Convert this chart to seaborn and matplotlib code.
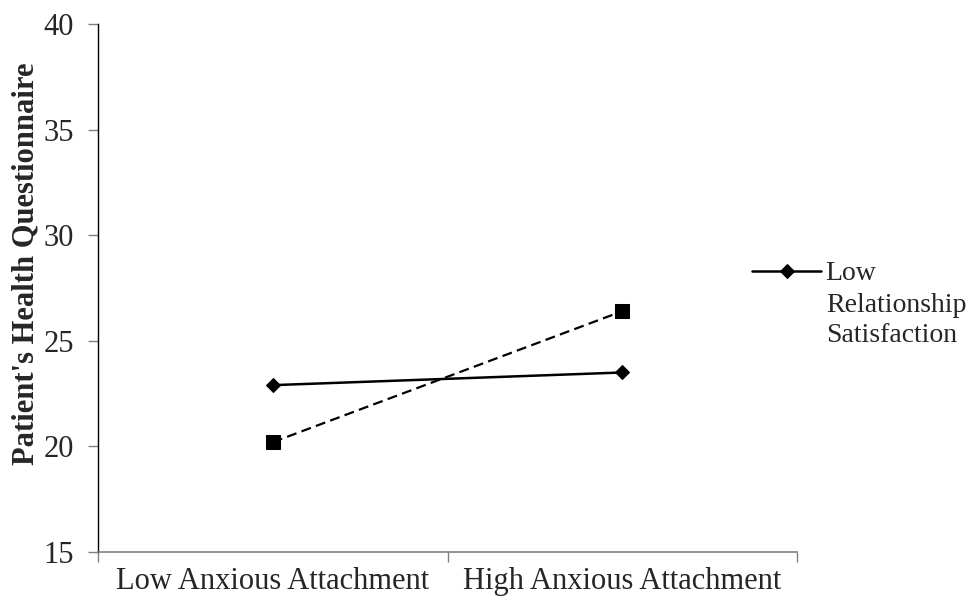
import matplotlib
matplotlib.use("Agg")
import matplotlib.pyplot as plt
import seaborn as sns
import pandas as pd
from matplotlib.ticker import FixedLocator, NullFormatter

sns.set_style("white")
plt.rcParams["font.family"] = ["Liberation Serif", "DejaVu Serif"]

# Simple slopes data
categories = ["Low Anxious Attachment", "High Anxious Attachment"]
low_satisfaction = [22.9, 23.5]
high_satisfaction = [20.2, 26.4]
series_names = ["Low Relationship Satisfaction", "High Relationship Satisfaction"]
y_ticks = [15, 20, 25, 30, 35, 40]

df = pd.DataFrame({
    "x": [0, 1, 0, 1],
    "value": low_satisfaction + high_satisfaction,
    "group": [series_names[0]] * 2 + [series_names[1]] * 2,
})

fig = plt.figure(figsize=(9.69, 6.07), dpi=100)
ax = fig.add_axes([98 / 969, 1 - 552 / 607, (797 - 98) / 969, (552 - 24) / 607])

low_df = df[df["group"] == series_names[0]]
high_df = df[df["group"] == series_names[1]]
sns.lineplot(data=low_df, x="x", y="value", ax=ax, color="black", lw=1.8,
             marker="D", markersize=7.2, markeredgecolor="black", legend=False)
sns.lineplot(data=high_df, x="x", y="value", ax=ax, color="black", lw=1.6,
             linestyle=(0, (4.5, 2.4)), marker="s", markersize=10,
             markeredgecolor="black", legend=False)

ax.set_xlim(-0.5, 1.5)
ax.set_ylim(15, 40)
ax.set_yticks(y_ticks)
ax.set_yticklabels([str(t) for t in y_ticks], fontsize=22)
ax.xaxis.set_major_locator(FixedLocator([-0.5, 0.5, 1.5]))
ax.xaxis.set_major_formatter(NullFormatter())
ax.xaxis.set_minor_locator(FixedLocator([0, 1]))
ax.set_xticklabels(categories, minor=True, fontsize=22)
ax.tick_params(axis="x", which="minor", bottom=True, length=0, pad=11)
ax.tick_params(axis="x", which="major", bottom=True, length=7.5, width=1,
               color="#808080", direction="out")
ax.tick_params(axis="y", left=True, length=7.5, width=1, color="#808080",
               direction="out", pad=10)
ax.set_xlabel("")
ax.set_ylabel("Patient's Health Questionnaire", fontsize=22, fontweight="bold")
ax.yaxis.set_label_coords(-0.082, 0.545)

for side in ["top", "right"]:
    ax.spines[side].set_visible(False)
ax.spines["left"].set_color("black")
ax.spines["left"].set_linewidth(1.0)
ax.spines["bottom"].set_color("#808080")
ax.spines["bottom"].set_linewidth(1.2)

handle = ax.get_lines()[0]
fig.legend([handle], ["Low"], loc="upper left",
           bbox_to_anchor=(752 / 969, 1 - 261 / 607), frameon=False,
           fontsize=20, handlelength=2.5, handletextpad=0.15,
           borderpad=0, borderaxespad=0)
fig.text(826 / 969, 1 - 293 / 607, "Relationship\nSatisfaction", fontsize=20,
         ha="left", va="top", linespacing=1.24)

fig.savefig("out.png", dpi=100)
